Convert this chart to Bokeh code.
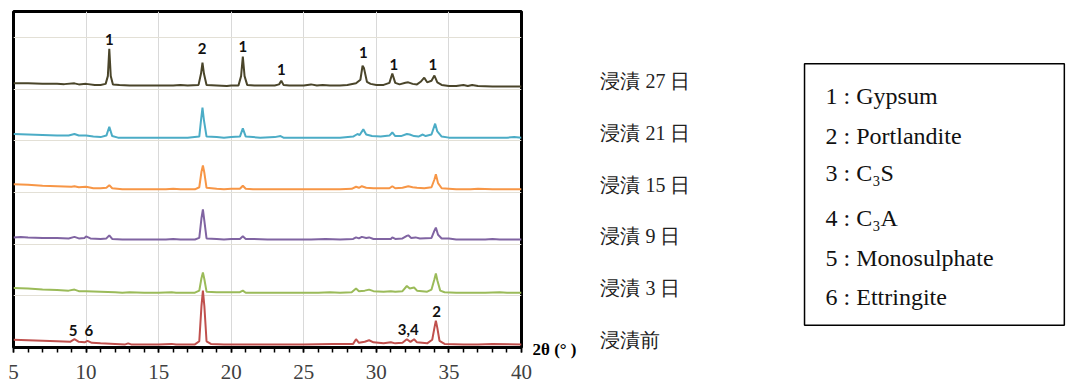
from bokeh.plotting import figure
from bokeh.layouts import row
from bokeh.models import ColumnDataSource, SingleIntervalTicker, Range1d
from bokeh.core.properties import value
from bokeh.embed import file_html
from bokeh.resources import INLINE

# ---------------- data (2θ in degrees, relative intensity above each trace's offset) ----------------
series_names = ["浸漬 27 日", "浸漬 21 日", "浸漬 15 日", "浸漬 9 日", "浸漬 3 日", "浸漬前"]
series_colors = ["#4A452A", "#4BACC6", "#F79646", "#8064A2", "#9BBB59", "#C0504D"]
offsets = [5, 4, 3, 2, 1, 0]

d27_x = [5.0, 6.0, 7.0, 8.0, 8.5, 9.2, 9.5, 10.0, 10.6, 11.0, 11.35, 11.5, 11.6, 11.7, 11.85, 12.3, 13.0, 14.0,
         15.0, 16.0, 16.5, 17.0, 17.75, 17.92, 18.02, 18.12, 18.3, 19.0, 19.7, 20.0, 20.5, 20.68, 20.8, 20.92,
         21.1, 21.6, 22.3, 23.0, 23.3, 23.45, 23.6, 24.0, 24.5, 25.0, 25.5, 25.9, 26.3, 26.8, 27.5, 28.0, 28.6,
         28.9, 29.05, 29.15, 29.35, 29.6, 30.0, 30.5, 30.9, 31.1, 31.3, 31.6, 32.0, 32.2, 32.5, 32.8, 33.05,
         33.3, 33.5, 33.8, 34.0, 34.2, 34.5, 35.0, 35.5, 36.0, 36.3, 36.6, 37.0, 38.0, 39.0, 40.0]
d27_y = [0.11, 0.11, 0.10, 0.10, 0.095, 0.11, 0.09, 0.10, 0.08, 0.08, 0.10, 0.25, 0.78, 0.25, 0.09, 0.08, 0.07, 0.07,
         0.07, 0.07, 0.08, 0.07, 0.08, 0.30, 0.51, 0.30, 0.08, 0.07, 0.06, 0.07, 0.07, 0.25, 0.63, 0.25,
         0.08, 0.07, 0.07, 0.07, 0.09, 0.16, 0.08, 0.07, 0.07, 0.07, 0.09, 0.07, 0.08, 0.07, 0.07, 0.08, 0.11,
         0.18, 0.45, 0.40, 0.14, 0.10, 0.08, 0.08, 0.12, 0.30, 0.12, 0.09, 0.12, 0.13, 0.10, 0.09, 0.14,
         0.22, 0.13, 0.16, 0.26, 0.13, 0.08, 0.06, 0.06, 0.08, 0.06, 0.08, 0.06, 0.05, 0.05, 0.05]

d21_x = [5.0, 6.0, 7.0, 8.0, 8.8, 9.2, 9.5, 10.0, 10.5, 11.0, 11.4, 11.6, 11.8, 12.2, 13.0, 14.0, 15.0, 16.0,
         17.0, 17.8, 17.92, 18.02, 18.12, 18.3, 19.0, 19.5, 20.0, 20.6, 20.8, 21.0, 21.5, 22.0, 23.0, 23.4,
         23.6, 24.5, 25.5, 26.5, 27.5, 28.4, 28.7, 28.85, 29.1, 29.3, 29.7, 30.3, 30.9, 31.1, 31.3, 31.7,
         32.1, 32.3, 32.6, 32.9, 33.2, 33.4, 33.8, 34.05, 34.2, 34.5, 35.0, 36.0, 37.0, 38.0, 39.0, 39.5, 40.0]
d21_y = [0.13, 0.12, 0.11, 0.10, 0.10, 0.13, 0.10, 0.10, 0.08, 0.07, 0.10, 0.27, 0.09, 0.06, 0.06, 0.06, 0.06, 0.06,
         0.06, 0.08, 0.40, 0.64, 0.40, 0.08, 0.07, 0.06, 0.07, 0.08, 0.24, 0.08, 0.07, 0.06, 0.07, 0.09,
         0.06, 0.06, 0.06, 0.06, 0.06, 0.08, 0.13, 0.11, 0.22, 0.12, 0.09, 0.08, 0.10, 0.16, 0.09, 0.09,
         0.13, 0.12, 0.09, 0.08, 0.12, 0.09, 0.12, 0.33, 0.18, 0.08, 0.06, 0.06, 0.06, 0.06, 0.06, 0.07, 0.06]

d15_x = [5.0, 6.0, 7.0, 8.0, 9.0, 9.2, 9.5, 10.0, 10.5, 11.0, 11.4, 11.6, 11.8, 12.5, 13.5, 14.5, 15.5, 16.0,
         16.5, 17.5, 17.8, 17.95, 18.05, 18.15, 18.3, 19.0, 19.5, 20.0, 20.6, 20.8, 21.0, 21.5, 22.5, 23.5,
         24.5, 25.5, 26.5, 27.5, 28.3, 28.6, 28.8, 29.0, 29.3, 29.8, 30.5, 30.9, 31.1, 31.3, 31.8, 32.2,
         32.5, 32.8, 33.3, 33.8, 34.0, 34.1, 34.25, 34.5, 35.0, 35.5, 36.5, 37.0, 38.0, 39.0, 40.0]
d15_y = [0.16, 0.15, 0.13, 0.12, 0.11, 0.12, 0.10, 0.11, 0.08, 0.08, 0.09, 0.14, 0.08, 0.06, 0.06, 0.06, 0.06, 0.07,
         0.06, 0.06, 0.10, 0.40, 0.52, 0.38, 0.09, 0.07, 0.06, 0.07, 0.07, 0.13, 0.07, 0.06, 0.06, 0.06,
         0.06, 0.06, 0.06, 0.06, 0.07, 0.11, 0.09, 0.12, 0.09, 0.08, 0.08, 0.08, 0.12, 0.08, 0.09, 0.12,
         0.10, 0.09, 0.08, 0.10, 0.25, 0.35, 0.18, 0.08, 0.07, 0.06, 0.06, 0.07, 0.06, 0.06, 0.06]

d9_x = [5.0, 5.5, 6.0, 7.0, 8.0, 8.8, 9.2, 9.5, 9.9, 10.0, 10.3, 11.0, 11.4, 11.6, 11.8, 12.5, 13.5, 14.5, 15.5,
        16.0, 16.5, 17.5, 17.8, 17.95, 18.05, 18.15, 18.3, 19.0, 19.5, 20.0, 20.6, 20.8, 21.0, 21.5, 22.5,
        23.5, 24.5, 25.5, 26.5, 27.5, 28.4, 28.6, 28.8, 29.0, 29.3, 29.5, 29.8, 30.5, 31.0, 31.1, 31.3, 31.8,
        32.1, 32.2, 32.4, 32.7, 33.0, 33.8, 34.0, 34.1, 34.25, 34.5, 35.0, 35.5, 36.5, 37.5, 38.0, 38.5, 39.0, 40.0]
d9_y = [0.13, 0.14, 0.13, 0.12, 0.12, 0.11, 0.14, 0.11, 0.12, 0.15, 0.11, 0.10, 0.11, 0.17, 0.10, 0.09, 0.09, 0.09, 0.09,
        0.10, 0.09, 0.09, 0.12, 0.50, 0.67, 0.45, 0.11, 0.10, 0.09, 0.10, 0.10, 0.15, 0.10, 0.10, 0.09,
        0.09, 0.09, 0.09, 0.10, 0.09, 0.10, 0.13, 0.11, 0.14, 0.12, 0.13, 0.10, 0.10, 0.10, 0.13, 0.10, 0.11,
        0.16, 0.17, 0.12, 0.13, 0.11, 0.12, 0.26, 0.32, 0.18, 0.11, 0.11, 0.09, 0.09, 0.09, 0.10, 0.09, 0.09, 0.09]

d3_x = [5.0, 6.0, 7.0, 8.0, 8.8, 9.2, 9.5, 10.0, 11.0, 12.0, 12.5, 13.0, 14.0, 15.0, 15.9, 16.2, 17.5, 17.8,
        17.95, 18.05, 18.15, 18.3, 19.0, 20.0, 20.6, 20.8, 21.0, 22.0, 23.0, 24.0, 25.0, 26.0, 26.8, 27.5,
        28.3, 28.6, 28.8, 29.2, 29.5, 29.8, 30.5, 31.0, 31.3, 31.8, 32.1, 32.3, 32.6, 32.8, 33.5, 33.8, 34.0,
        34.1, 34.2, 34.4, 34.7, 35.5, 36.5, 37.5, 38.5, 39.0, 40.0]
d3_y = [0.15, 0.14, 0.12, 0.11, 0.10, 0.12, 0.09, 0.09, 0.08, 0.07, 0.06, 0.07, 0.06, 0.06, 0.07, 0.06, 0.06, 0.10,
        0.34, 0.45, 0.32, 0.08, 0.07, 0.07, 0.07, 0.10, 0.06, 0.06, 0.06, 0.06, 0.06, 0.06, 0.07, 0.06,
        0.07, 0.14, 0.09, 0.10, 0.12, 0.09, 0.08, 0.09, 0.08, 0.09, 0.19, 0.14, 0.16, 0.10, 0.08, 0.12, 0.32,
        0.43, 0.30, 0.10, 0.07, 0.06, 0.06, 0.06, 0.07, 0.06, 0.06]

d0_x = [5.0, 6.0, 7.0, 8.0, 8.9, 9.2, 9.5, 9.9, 10.1, 10.4, 11.0, 12.0, 12.7, 12.9, 13.1, 15.0, 15.9, 16.2, 17.5,
        17.8, 17.95, 18.05, 18.15, 18.3, 18.6, 19.5, 21.0, 23.0, 25.0, 27.0, 28.4, 28.6, 28.8, 29.2, 29.5,
        29.8, 30.5, 31.0, 31.3, 31.8, 32.1, 32.35, 32.6, 32.8, 33.5, 33.85, 34.0, 34.1, 34.2, 34.35, 34.7,
        36.0, 37.0, 38.0, 40.0]
d0_y = [0.15, 0.14, 0.13, 0.12, 0.11, 0.16, 0.11, 0.10, 0.13, 0.09, 0.08, 0.07, 0.06, 0.08, 0.06, 0.06, 0.07, 0.06, 0.06,
        0.12, 0.80, 1.10, 0.80, 0.12, 0.07, 0.06, 0.06, 0.06, 0.06, 0.07, 0.07, 0.16, 0.09, 0.11, 0.14,
        0.10, 0.08, 0.10, 0.08, 0.09, 0.16, 0.11, 0.16, 0.10, 0.08, 0.15, 0.38, 0.52, 0.38, 0.13, 0.07,
        0.06, 0.06, 0.07, 0.06]

series_x = [d27_x, d21_x, d15_x, d9_x, d3_x, d0_x]
series_y = [d27_y, d21_y, d15_y, d9_y, d3_y, d0_y]

# peak annotations (2θ, stacked height, label)
peak_x = [11.6, 18.0, 20.8, 23.45, 29.1, 31.2, 33.9, 9.1, 10.2, 32.2, 34.15]
peak_y = [5.95, 5.79, 5.83, 5.37, 5.70, 5.47, 5.47, 0.33, 0.33, 0.35, 0.70]
peak_text = ["1", "2", "1", "1", "1", "1", "1", "5", "6", "3,4", "2"]

phase_labels = ["1 : Gypsum", "2 : Portlandite", "3 : C₃S", "4 : C₃A", "5 : Monosulphate", "6 : Ettringite"]

x_ticks_interval = 5
x_label = "2θ (°  )"

# ---------------- main figure ----------------
X0, X1, Y0, Y1 = 5, 40, 0, 6.5
p = figure(width=532, height=388, x_range=Range1d(X0, X1), y_range=Range1d(Y0, Y1),
           output_backend="svg", toolbar_location=None,
           min_border_left=13, min_border_right=11, min_border_top=11, min_border_bottom=41)
p.frame_align = False
p.background_fill_color = "white"
p.border_fill_color = "white"
p.outline_line_color = "black"
p.outline_line_width = 3

p.xaxis.ticker = SingleIntervalTicker(interval=x_ticks_interval, num_minor_ticks=5)
p.xaxis.axis_line_color = "black"
p.xaxis.axis_line_width = 3
p.xaxis.major_tick_line_color = "black"
p.xaxis.minor_tick_line_color = "black"
p.xaxis.major_tick_line_width = 1.5
p.xaxis.minor_tick_line_width = 1.5
p.xaxis.major_tick_in = 0
p.xaxis.major_tick_out = 5
p.xaxis.minor_tick_in = 0
p.xaxis.minor_tick_out = 5
p.xaxis.major_label_text_font = "Liberation Serif"
p.xaxis.major_label_text_font_size = "21px"
p.xaxis.major_label_text_color = "#404040"
p.xaxis.major_label_standoff = 12
p.yaxis.visible = False

p.xgrid.ticker = SingleIntervalTicker(interval=x_ticks_interval)
p.xgrid.grid_line_color = "#d9d9d9"
p.xgrid.grid_line_width = 1
p.ygrid.ticker = SingleIntervalTicker(interval=1)
p.ygrid.grid_line_color = "#e3e0d6"
p.ygrid.grid_line_width = 1.2

for xs, ys, off, col in zip(series_x, series_y, offsets, series_colors):
    src = ColumnDataSource(dict(x=xs, y=[v + off for v in ys]))
    p.line("x", "y", source=src, line_color=col, line_width=2)

psrc = ColumnDataSource(dict(x=peak_x, y=peak_y, t=peak_text))
p.text("x", "y", text="t", source=psrc, text_font=value("Lato"), text_font_style="bold",
       text_font_size="15px", text_color="#111111", text_align="center", text_baseline="middle")

# ---------------- side panel (same scales, continued to the right) ----------------
px_per_x = 508 / (X1 - X0)
px_per_y = 336 / (Y1 - Y0)
sx0 = X1 + 11 / px_per_x
sx1 = sx0 + 538 / px_per_x
sy0 = Y0 - 41 / px_per_y
sy1 = Y1 + 11 / px_per_y
s = figure(width=538, height=388, x_range=Range1d(sx0, sx1), y_range=Range1d(sy0, sy1),
           output_backend="svg", toolbar_location=None, x_axis_type=None, y_axis_type=None,
           min_border_left=0, min_border_right=0, min_border_top=0, min_border_bottom=0)
s.frame_align = False
s.outline_line_color = None
s.background_fill_color = "white"
s.border_fill_color = "white"

serif = "Liberation Serif"

# series labels
lsrc = ColumnDataSource(dict(x=[45.44] * len(series_names), y=[o + 0.15 for o in offsets], t=series_names))
s.text("x", "y", text="t", source=lsrc, text_font=value(serif), text_font_size="20px",
       text_color="#222222", text_baseline="middle", text_align="left")

# x axis title
s.text([40.76], [-0.04], text=[x_label], text_font=value(serif), text_font_style="bold",
       text_font_size="17px", text_color="black", text_baseline="middle", text_align="left")

# phase legend box
s.quad(left=[59.5], right=[77.4], bottom=[0.43], top=[5.49], fill_color=None,
       line_color="black", line_width=1.5)
legend_y = [4.875, 4.10, 3.37, 2.51, 1.74, 0.97]
gsrc = ColumnDataSource(dict(x=[60.95] * len(phase_labels), y=legend_y, t=phase_labels))
s.text("x", "y", text="t", source=gsrc, text_font=value(serif), text_font_size="24px",
       text_color="#111111", text_baseline="middle", text_align="left")

layout = row(p, s, spacing=0)
open("out.html", "w").write(file_html(layout, INLINE))
